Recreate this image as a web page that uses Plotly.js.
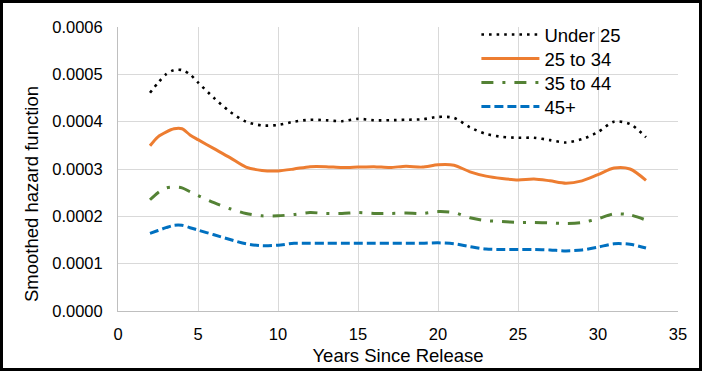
<!DOCTYPE html>
<html>
<head>
<meta charset="utf-8">
<script src="https://cdn.plot.ly/plotly-3.0.1.min.js"></script>
<style>
  html, body { margin: 0; padding: 0; background: #fff; }
  #wrap { position: relative; width: 702px; height: 371px; }
  #chart { width: 702px; height: 371px; }
  #frame { position: absolute; left: 0; top: 0; width: 702px; height: 371px; box-sizing: border-box; border: 3px solid #000; pointer-events: none; }
</style>
</head>
<body>
<div id="wrap"><div id="chart"></div><div id="frame"></div></div>
<script>
const years = [2, 2.5, 3, 3.5, 4, 4.5, 5, 6, 7, 8, 9, 10, 11, 12, 13, 14, 15, 16, 17, 18, 19, 20, 21, 22, 23, 24, 25, 26, 27, 28, 29, 30, 31, 32, 33];

const under25 = [0.000461, 0.000482, 0.000500, 0.000509, 0.000509, 0.000500, 0.000483, 0.000450, 0.000421, 0.000400, 0.000392, 0.000393, 0.000400, 0.000404, 0.000403, 0.000401, 0.000406, 0.000403, 0.000403, 0.000404, 0.000405, 0.000410, 0.000408, 0.000388, 0.000374, 0.000368, 0.000366, 0.000366, 0.000361, 0.000356, 0.000363, 0.000378, 0.000400, 0.000395, 0.000367];

const age25to34 = [0.000349, 0.000368, 0.000378, 0.000385, 0.000385, 0.000372, 0.000362, 0.000343, 0.000324, 0.000304, 0.000297, 0.000296, 0.000300, 0.000305, 0.000305, 0.000303, 0.000304, 0.000305, 0.000303, 0.000306, 0.000304, 0.000309, 0.000308, 0.000294, 0.000285, 0.000280, 0.000277, 0.000279, 0.000275, 0.000270, 0.000275, 0.000288, 0.000302, 0.000300, 0.000276];

const age35to44 = [0.000235, 0.000250, 0.000260, 0.000262, 0.000260, 0.000252, 0.000244, 0.000229, 0.000216, 0.000206, 0.000201, 0.000201, 0.000204, 0.000208, 0.000206, 0.000206, 0.000208, 0.000206, 0.000206, 0.000207, 0.000206, 0.000210, 0.000208, 0.000197, 0.000191, 0.000189, 0.000187, 0.000187, 0.000186, 0.000185, 0.000187, 0.000195, 0.000205, 0.000203, 0.000192];

const age45plus = [0.000164, 0.000170, 0.000176, 0.000181, 0.000181, 0.000176, 0.000171, 0.000161, 0.000151, 0.000142, 0.000138, 0.000139, 0.000143, 0.000143, 0.000143, 0.000143, 0.000143, 0.000143, 0.000143, 0.000143, 0.000143, 0.000144, 0.000142, 0.000136, 0.000131, 0.000130, 0.000130, 0.000130, 0.000129, 0.000127, 0.000129, 0.000135, 0.000142, 0.000141, 0.000133];

const seriesNames = ["Under 25", "25 to 34", "35 to 44", "45+"];
const yTickVals = [0, 0.0001, 0.0002, 0.0003, 0.0004, 0.0005, 0.0006];
const yTickText = ["0.0000", "0.0001", "0.0002", "0.0003", "0.0004", "0.0005", "0.0006"];
const xTickVals = [0, 5, 10, 15, 20, 25, 30, 35];

const FONT = "Liberation Sans, Arial, sans-serif";

const traces = [
  { x: years, y: under25, name: seriesNames[0], type: "scatter", mode: "lines", legend: "legend",
    line: { color: "#000000", width: 2.6, dash: "2.6px,5px", shape: "spline", smoothing: 0.8 } },
  { x: years, y: age25to34, name: seriesNames[1], type: "scatter", mode: "lines", legend: "legend2",
    line: { color: "#ED7D31", width: 3, shape: "spline", smoothing: 0.8 } },
  { x: years, y: age35to44, name: seriesNames[2], type: "scatter", mode: "lines", legend: "legend3",
    line: { color: "#548235", width: 3, dash: "12px,9px,3px,9px", shape: "spline", smoothing: 0.8 } },
  { x: years, y: age45plus, name: seriesNames[3], type: "scatter", mode: "lines", legend: "legend4",
    line: { color: "#0070C0", width: 3, dash: "9px,4px", shape: "spline", smoothing: 0.8 } }
];

function legendAt(yc) {
  return {
    x: 0.64, y: (311 - yc) / 284, xanchor: "left", yanchor: "middle",
    bgcolor: "rgba(0,0,0,0)", borderwidth: 0,
    font: { family: FONT, size: 18.5, color: "#000" },
    itemwidth: 58
  };
}

const layout = {
  width: 702, height: 371,
  margin: { l: 118, r: 24, t: 27, b: 60, pad: 0 },
  paper_bgcolor: "#ffffff", plot_bgcolor: "#ffffff",
  font: { family: FONT, size: 16.5, color: "#000000" },
  showlegend: true,
  legend: legendAt(35),
  legend2: legendAt(59),
  legend3: legendAt(83),
  legend4: legendAt(107),
  xaxis: {
    range: [0, 35], tickvals: xTickVals, ticktext: xTickVals.map(String),
    showgrid: true, gridcolor: "#D9D9D9", gridwidth: 1,
    showline: true, linecolor: "#BFBFBF", linewidth: 1,
    zeroline: false, ticks: "", ticklabelstandoff: 8,
    tickfont: { family: FONT, size: 16.5, color: "#000" },
    title: { text: "Years Since Release", font: { family: FONT, size: 18.5, color: "#000" }, standoff: 7 }
  },
  yaxis: {
    range: [0, 0.0006], tickvals: yTickVals, ticktext: yTickText,
    showgrid: true, gridcolor: "#D9D9D9", gridwidth: 1,
    showline: true, linecolor: "#BFBFBF", linewidth: 1,
    zeroline: false, ticks: "", ticklabelstandoff: 11,
    tickfont: { family: FONT, size: 16.5, color: "#000" }
  },
  annotations: [{
    text: "Smoothed hazard function", xref: "paper", yref: "paper",
    x: -0.1536, y: 0.412, xanchor: "center", yanchor: "middle",
    textangle: -90, showarrow: false,
    font: { family: FONT, size: 18.5, color: "#000" }
  }]
};

Plotly.newPlot("chart", traces, layout, { displayModeBar: false, staticPlot: true });
</script>
</body>
</html>
